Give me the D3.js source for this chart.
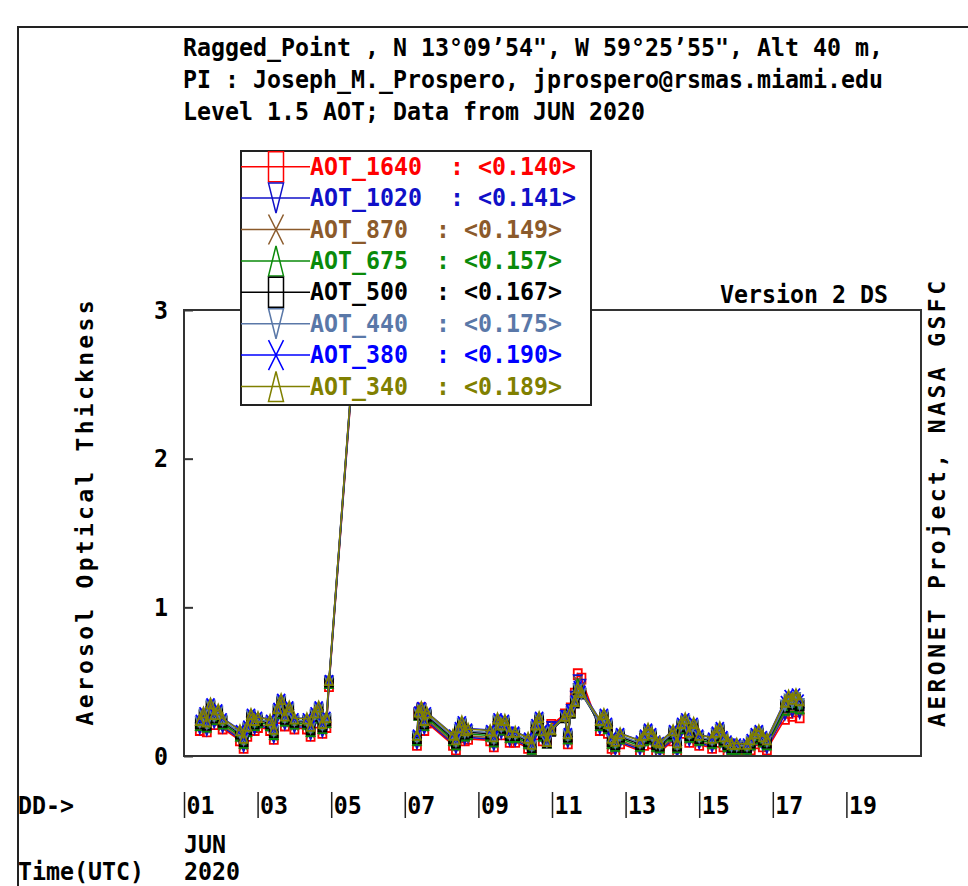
<!DOCTYPE html>
<html lang="en">
<head>
<meta charset="UTF-8">
<script src="https://d3js.org/d3.v7.min.js"></script>
<title>Ragged_Point AOT</title>
<style>
  body { margin: 0; background: #fff; }
  text { font-family: "DejaVu Sans Mono", "Liberation Mono", monospace; font-weight: bold; }
</style>
</head>
<body>
<svg id="aot" width="968" height="886"></svg>
<script>
// ---- data (fractional day of JUN 2020, UTC) ----
const times = [
  1.43, 1.53, 1.62, 1.72, 1.82, 1.93, 2.05,
  2.52, 2.62, 2.72, 2.82, 2.92, 3.01,
  3.34, 3.44, 3.54, 3.64, 3.74, 3.86, 4.00,
  4.34, 4.44, 4.55, 4.66, 4.76, 4.87, 4.94, 5.72,
  7.33, 7.37, 7.45, 7.53, 7.60,
  8.31, 8.39, 8.47, 8.55, 8.63, 8.72,
  9.32, 9.42, 9.52, 9.62, 9.72, 9.85, 10.00,
  10.35, 10.45, 10.55, 10.65, 10.75, 10.86, 10.98,
  11.35, 11.43, 11.51, 11.62, 11.70, 11.80,
  12.30, 12.41, 12.52, 12.62, 12.72, 12.85,
  13.39, 13.50, 13.61, 13.72, 13.83, 13.93,
  14.29, 14.40, 14.51, 14.62, 14.73, 14.85, 15.00,
  15.35, 15.45, 15.56, 15.66, 15.77, 15.88, 16.02,
  16.30, 16.40, 16.51, 16.62, 16.73, 16.84,
  17.33, 17.43, 17.53, 17.63, 17.73
];

const aot1640 = [
  0.175,0.225,0.165,0.285,0.215,0.245,0.185,
  0.105,0.055,0.135,0.215,0.175,0.195,
  0.175,0.115,0.255,0.315,0.205,0.265,0.185,
  0.185,0.135,0.225,0.265,0.155,0.195,0.47,3.02,
  0.075,0.29,0.32,0.175,0.225,
  0.075,0.045,0.125,0.165,0.105,0.115,
  0.105,0.065,0.185,0.145,0.175,0.095,0.095,
  0.055,0.015,0.145,0.195,0.105,0.11,0.21,
  0.28,0.085,0.32,0.42,0.55,0.52,
  0.175,0.215,0.155,0.055,0.035,0.085,
  0.035,0.075,0.115,0.085,0.035,0.025,
  0.105,0.025,0.155,0.185,0.095,0.155,0.075,
  0.055,0.095,0.125,0.065,0.035,0.015,0.015,
  0.015,0.045,0.085,0.105,0.065,0.045,
  0.25,0.29,0.27,0.30,0.26
];
const aot1020 = [
  0.185,0.235,0.175,0.295,0.225,0.255,0.195,
  0.115,0.065,0.145,0.225,0.185,0.205,
  0.185,0.125,0.265,0.325,0.215,0.275,0.195,
  0.195,0.145,0.235,0.275,0.165,0.205,0.48,3.03,
  0.085,0.285,0.315,0.185,0.235,
  0.085,0.055,0.135,0.175,0.115,0.125,
  0.115,0.075,0.195,0.155,0.185,0.105,0.105,
  0.065,0.025,0.155,0.205,0.115,0.10,0.195,
  0.27,0.095,0.31,0.40,0.51,0.48,
  0.185,0.225,0.165,0.065,0.045,0.095,
  0.045,0.085,0.125,0.095,0.045,0.035,
  0.115,0.035,0.165,0.195,0.105,0.165,0.085,
  0.065,0.105,0.135,0.075,0.045,0.025,0.025,
  0.025,0.055,0.095,0.115,0.075,0.055,
  0.28,0.32,0.30,0.33,0.29
];
const aot870 = [
  0.195,0.245,0.185,0.305,0.235,0.265,0.205,
  0.125,0.075,0.155,0.235,0.195,0.215,
  0.195,0.135,0.275,0.335,0.225,0.285,0.205,
  0.205,0.155,0.245,0.285,0.175,0.215,0.49,3.04,
  0.095,0.28,0.31,0.195,0.245,
  0.095,0.065,0.145,0.185,0.125,0.135,
  0.125,0.085,0.205,0.165,0.195,0.115,0.115,
  0.075,0.035,0.165,0.215,0.125,0.095,0.185,
  0.265,0.105,0.30,0.39,0.50,0.46,
  0.195,0.235,0.175,0.075,0.055,0.105,
  0.055,0.095,0.135,0.105,0.055,0.045,
  0.125,0.045,0.175,0.205,0.115,0.175,0.095,
  0.075,0.115,0.145,0.085,0.055,0.035,0.035,
  0.035,0.065,0.105,0.125,0.085,0.065,
  0.295,0.335,0.315,0.345,0.305
];
const aot675 = [
  0.208,0.258,0.198,0.318,0.248,0.278,0.218,
  0.138,0.088,0.168,0.248,0.208,0.228,
  0.208,0.148,0.288,0.348,0.238,0.298,0.218,
  0.218,0.168,0.258,0.298,0.188,0.228,0.49,3.05,
  0.108,0.276,0.306,0.208,0.258,
  0.108,0.078,0.158,0.198,0.138,0.148,
  0.138,0.098,0.218,0.178,0.208,0.128,0.128,
  0.088,0.048,0.178,0.228,0.138,0.09,0.177,
  0.262,0.118,0.295,0.375,0.48,0.44,
  0.208,0.248,0.188,0.088,0.068,0.118,
  0.068,0.108,0.148,0.118,0.068,0.058,
  0.138,0.058,0.188,0.218,0.128,0.188,0.108,
  0.088,0.128,0.158,0.098,0.068,0.048,0.048,
  0.048,0.078,0.118,0.138,0.098,0.078,
  0.31,0.35,0.33,0.36,0.32
];
const aot500 = [
  0.22,0.27,0.21,0.33,0.26,0.29,0.23,
  0.15,0.10,0.18,0.26,0.22,0.24,
  0.22,0.16,0.30,0.36,0.25,0.31,0.23,
  0.23,0.18,0.27,0.31,0.20,0.24,0.50,3.06,
  0.12,0.28,0.31,0.22,0.27,
  0.12,0.09,0.17,0.21,0.15,0.16,
  0.15,0.11,0.23,0.19,0.22,0.14,0.14,
  0.10,0.06,0.19,0.24,0.15,0.09,0.17,
  0.26,0.13,0.29,0.36,0.45,0.42,
  0.22,0.26,0.20,0.10,0.08,0.13,
  0.08,0.12,0.16,0.13,0.08,0.07,
  0.15,0.07,0.20,0.23,0.14,0.20,0.12,
  0.10,0.14,0.17,0.11,0.08,0.06,0.06,
  0.06,0.09,0.13,0.15,0.11,0.09,
  0.33,0.37,0.35,0.38,0.34
];
const aot440 = [
  0.228,0.278,0.218,0.338,0.268,0.298,0.238,
  0.158,0.108,0.188,0.268,0.228,0.248,
  0.228,0.168,0.308,0.368,0.258,0.318,0.238,
  0.238,0.188,0.278,0.318,0.208,0.248,0.50,3.06,
  0.128,0.285,0.315,0.228,0.278,
  0.128,0.098,0.178,0.218,0.158,0.168,
  0.158,0.118,0.238,0.198,0.228,0.148,0.148,
  0.108,0.068,0.198,0.248,0.158,0.095,0.175,
  0.265,0.138,0.295,0.365,0.45,0.42,
  0.228,0.268,0.208,0.108,0.088,0.138,
  0.088,0.128,0.168,0.138,0.088,0.078,
  0.158,0.078,0.208,0.238,0.148,0.208,0.128,
  0.108,0.148,0.178,0.118,0.088,0.068,0.068,
  0.068,0.098,0.138,0.158,0.118,0.098,
  0.34,0.38,0.36,0.39,0.35
];
const aot380 = [
  0.244,0.294,0.234,0.354,0.284,0.314,0.254,
  0.174,0.124,0.204,0.284,0.244,0.264,
  0.244,0.184,0.324,0.384,0.274,0.334,0.254,
  0.254,0.204,0.294,0.334,0.224,0.264,0.51,3.07,
  0.144,0.30,0.33,0.244,0.294,
  0.144,0.114,0.194,0.234,0.174,0.184,
  0.174,0.134,0.254,0.214,0.244,0.164,0.164,
  0.124,0.084,0.214,0.264,0.174,0.105,0.185,
  0.275,0.154,0.305,0.375,0.47,0.44,
  0.244,0.284,0.224,0.124,0.104,0.154,
  0.104,0.144,0.184,0.154,0.104,0.094,
  0.174,0.094,0.224,0.254,0.164,0.224,0.144,
  0.124,0.164,0.194,0.134,0.104,0.084,0.084,
  0.084,0.114,0.154,0.174,0.134,0.114,
  0.37,0.41,0.39,0.42,0.38
];
const aot340 = [
  0.242,0.292,0.232,0.352,0.282,0.312,0.252,
  0.172,0.122,0.202,0.282,0.242,0.262,
  0.242,0.182,0.322,0.382,0.272,0.332,0.252,
  0.252,0.202,0.292,0.332,0.222,0.262,0.51,3.07,
  0.142,0.298,0.328,0.242,0.292,
  0.142,0.112,0.192,0.232,0.172,0.182,
  0.172,0.132,0.252,0.212,0.242,0.162,0.162,
  0.122,0.082,0.212,0.262,0.172,0.10,0.18,
  0.27,0.152,0.30,0.37,0.46,0.43,
  0.242,0.282,0.222,0.122,0.102,0.152,
  0.102,0.142,0.182,0.152,0.102,0.092,
  0.172,0.092,0.222,0.252,0.162,0.222,0.142,
  0.122,0.162,0.192,0.132,0.102,0.082,0.082,
  0.082,0.112,0.152,0.172,0.132,0.112,
  0.365,0.405,0.385,0.415,0.375
];

const seriesNames   = ['AOT_1640', 'AOT_1020', 'AOT_870', 'AOT_675', 'AOT_500', 'AOT_440', 'AOT_380', 'AOT_340'];
const seriesMeans   = ['0.140', '0.141', '0.149', '0.157', '0.167', '0.175', '0.190', '0.189'];
const seriesValues  = [aot1640, aot1020, aot870, aot675, aot500, aot440, aot380, aot340];
const seriesColors  = ['#ff0000', '#1010c8', '#8b5a2b', '#0a8a0a', '#000000', '#5a78a8', '#0000ff', '#808000'];
const seriesSymbols = ['square', 'down', 'x', 'up', 'square', 'down', 'x', 'up'];

const dayTicks  = [1, 3, 5, 7, 9, 11, 13, 15, 17, 19];
const dayLabels = ['01', '03', '05', '07', '09', '11', '13', '15', '17', '19'];
const yTicks    = [0, 1, 2, 3];

const titleLines = [
  'Ragged_Point , N 13°09’54", W 59°25’55", Alt 40 m,',
  'PI : Joseph_M._Prospero, jprospero@rsmas.miami.edu',
  'Level 1.5 AOT; Data from JUN 2020'
];

// ---- layout ----
const svg = d3.select('svg#aot');
const frame = {left: 184, right: 921, top: 310, bottom: 756};
const CW = 14;       // character cell width of the plot font
const FS = 25;

const xScale = d3.scaleLinear().domain([1, 21]).range([frame.left, frame.right - 1]);
const yScale = d3.scaleLinear().domain([0, 3]).range([frame.bottom, frame.top]);

function monoText(parent, str, x, y, color) {
  return parent.append('text')
    .attr('x', x).attr('y', y)
    .attr('textLength', str.length * CW)
    .attr('lengthAdjust', 'spacingAndGlyphs')
    .style('font-size', FS + 'px')
    .attr('fill', color || '#000')
    .style('white-space', 'pre')
    .text(str);
}

function symbolPath(type, w, h) {
  const a = w / 2, b = h / 2;
  if (type === 'square') return `M${-a},${-b}H${a}V${b}H${-a}Z`;
  if (type === 'down') return `M${-a},${-b}H${a}L0,${b}Z`;
  if (type === 'up') return `M0,${-b}L${a},${b}H${-a}Z`;
  return `M${-a},${-b}L${a},${b}M${a},${-b}L${-a},${b}`;
}

// outer page border
svg.append('path')
  .attr('d', 'M18,886V27H968')
  .attr('fill', 'none')
  .attr('stroke', '#222')
  .attr('stroke-width', 2);

// titles
titleLines.forEach((t, i) => monoText(svg, t, 183, 56 + i * 32));

// clip for the plot
svg.append('defs').append('clipPath').attr('id', 'plotClip')
  .append('rect')
  .attr('x', frame.left).attr('y', frame.top)
  .attr('width', frame.right - frame.left).attr('height', frame.bottom - frame.top);

const plot = svg.append('g').attr('clip-path', 'url(#plotClip)');

const line = d3.line().x(d => xScale(d.t)).y(d => yScale(d.v));

seriesValues.forEach((vals, i) => {
  const pts = times.map((t, j) => ({t: t, v: vals[j]}));
  // break the line where there is more than a day without data
  const segs = [];
  let cur = [];
  pts.forEach((p, j) => {
    if (j > 0 && p.t - pts[j - 1].t > 1) { segs.push(cur); cur = []; }
    cur.push(p);
  });
  segs.push(cur);

  const g = plot.append('g');
  g.selectAll('path.seg')
    .data(segs)
    .join('path')
    .attr('class', 'seg')
    .attr('d', line)
    .attr('fill', 'none')
    .attr('stroke', seriesColors[i])
    .attr('stroke-width', 1.6);

  g.selectAll('path.mk')
    .data(pts)
    .join('path')
    .attr('class', 'mk')
    .attr('transform', d => `translate(${xScale(d.t)},${yScale(d.v)})`)
    .attr('d', symbolPath(seriesSymbols[i], 8, 10))
    .attr('fill', 'none')
    .attr('stroke', seriesColors[i])
    .attr('stroke-width', 1.8);
});

// plot frame
svg.append('rect')
  .attr('x', frame.left).attr('y', frame.top)
  .attr('width', frame.right - frame.left).attr('height', frame.bottom - frame.top)
  .attr('fill', 'none')
  .attr('stroke', '#333')
  .attr('stroke-width', 2);

// y axis (ticks pointing inward)
const yAxis = svg.append('g')
  .attr('transform', `translate(${frame.left},0)`)
  .call(d3.axisLeft(yScale).tickValues(yTicks).tickSize(-9).tickPadding(16).tickFormat(d3.format('d')));
yAxis.attr('font-family', null).attr('font-size', null);
yAxis.select('.domain').remove();
yAxis.selectAll('line').attr('stroke', '#333').attr('stroke-width', 2);
yAxis.selectAll('text')
  .attr('textLength', CW).attr('lengthAdjust', 'spacingAndGlyphs')
  .style('font-size', FS + 'px').attr('fill', '#000');

// x axis (day ticks below the frame)
const xAxis = svg.append('g')
  .attr('transform', 'translate(0,792)')
  .call(d3.axisBottom(xScale).tickValues(dayTicks).tickSize(26).tickFormat((d, i) => dayLabels[i]));
xAxis.attr('font-family', null).attr('font-size', null);
xAxis.select('.domain').remove();
xAxis.selectAll('line').attr('stroke', '#222').attr('stroke-width', 1.5);
xAxis.selectAll('text')
  .attr('x', 2).attr('y', 22).attr('dy', null)
  .attr('text-anchor', 'start')
  .attr('textLength', 2 * CW).attr('lengthAdjust', 'spacingAndGlyphs')
  .style('font-size', FS + 'px').attr('fill', '#000');

monoText(svg, 'DD->', 18, 814);
monoText(svg, 'JUN', 184, 853);
monoText(svg, 'Time(UTC)', 18, 880);
monoText(svg, '2020', 184, 880);
monoText(svg, 'Version 2 DS', 720, 303);

// rotated labels
svg.append('text')
  .attr('transform', 'translate(93,513) rotate(-90)')
  .attr('text-anchor', 'middle')
  .attr('textLength', 425).attr('lengthAdjust', 'spacing')
  .style('font-size', '23px')
  .text('Aerosol Optical Thickness');

svg.append('text')
  .attr('transform', 'translate(945,504) rotate(-90)')
  .attr('text-anchor', 'middle')
  .attr('textLength', 446).attr('lengthAdjust', 'spacing')
  .style('font-size', '23px')
  .text('AERONET Project, NASA GSFC');

// legend (drawn over the plot)
const legend = svg.append('g');
legend.append('rect')
  .attr('x', 241).attr('y', 151)
  .attr('width', 350).attr('height', 254)
  .attr('fill', '#fff')
  .attr('stroke', '#222')
  .attr('stroke-width', 2);

seriesNames.forEach((name, i) => {
  const yRow = 166.7 + i * 31.4;
  legend.append('line')
    .attr('x1', 241).attr('x2', 310)
    .attr('y1', yRow).attr('y2', yRow)
    .attr('stroke', seriesColors[i]).attr('stroke-width', 1.5);
  legend.append('path')
    .attr('transform', `translate(276,${yRow})`)
    .attr('d', symbolPath(seriesSymbols[i], 15, 30))
    .attr('fill', 'none')
    .attr('stroke', seriesColors[i])
    .attr('stroke-width', 1.5);
  monoText(legend, `${name}  : <${seriesMeans[i]}>`, 310, yRow + 8, seriesColors[i]);
});
</script>
</body>
</html>
